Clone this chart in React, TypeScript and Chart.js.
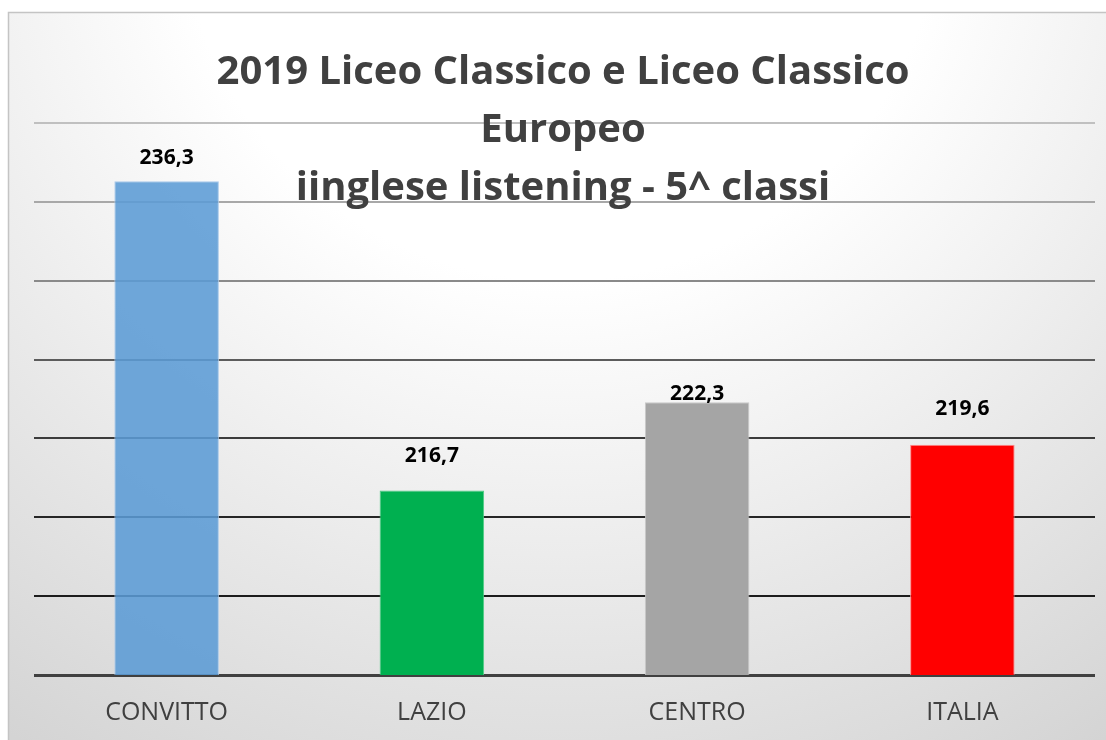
import React, { useEffect, useRef } from "react";
import { Chart, registerables } from "chart.js";

Chart.register(...registerables);

const categories = ["CONVITTO", "LAZIO", "CENTRO", "ITALIA"];
const values = [236.3, 216.7, 222.3, 219.6];
const titleLines = ["2019 Liceo Classico e Liceo Classico", "Europeo", "iinglese listening - 5^ classi"];
const yMin = 205;
const yMax = 240;
const yStep = 5;

const barColors = ["rgba(91,155,213,0.88)", "#00b050", "#a5a5a5", "#ff0000"];
const barBorders = ["#a9c9ea", "#4fcc85", "#c9c9c9", "#ff8a8a"];
// label baseline gap above each bar top (px), as placed in the original
const labelGaps = [17, 28, 2, 30];
const gridColors = ["#404040", "#1c1c1c", "#262626", "#3c3c3c", "#5c5c5c", "#8a8a8a", "#a8a8a8", "#c0c0c0"];

const fmt = (v: number) => v.toFixed(1).replace(".", ",");

const bgPlugin = {
  id: "bgPlugin",
  beforeDraw(chart: any) {
    const { ctx, width, height } = chart;
    ctx.save();
    ctx.fillStyle = "#ffffff";
    ctx.fillRect(0, 0, width, height);
    const g = ctx.createRadialGradient(560, -100, 0, 560, -100, 1000);
    g.addColorStop(0, "#ffffff");
    g.addColorStop(0.38, "#ffffff");
    g.addColorStop(1, "#d4d4d4");
    ctx.fillStyle = g;
    ctx.fillRect(8, 12, width + 10, height + 10);
    ctx.strokeStyle = "#c4c4c4";
    ctx.lineWidth = 1.5;
    ctx.strokeRect(8.5, 12.5, width + 10, height + 10);
    ctx.restore();
  },
};

const labelPlugin = {
  id: "labelPlugin",
  afterDatasetsDraw(chart: any) {
    const { ctx } = chart;
    const meta = chart.getDatasetMeta(0);
    ctx.save();
    ctx.font = "bold 21px 'Open Sans'";
    ctx.fillStyle = "#000000";
    ctx.textAlign = "center";
    ctx.textBaseline = "alphabetic";
    meta.data.forEach((bar: any, i: number) => {
      ctx.fillText(fmt(values[i]), bar.x, bar.y - labelGaps[i]);
    });
    ctx.restore();
  },
};

const titlePlugin = {
  id: "titlePlugin",
  afterDraw(chart: any) {
    const { ctx } = chart;
    ctx.save();
    ctx.font = "bold 40px 'Open Sans'";
    ctx.fillStyle = "#404040";
    ctx.textAlign = "center";
    ctx.textBaseline = "alphabetic";
    titleLines.forEach((line, i) => {
      ctx.fillText(line, 563, 84 + i * 58);
    });
    ctx.restore();
  },
};

export default function App() {
  const ref = useRef<HTMLCanvasElement | null>(null);
  useEffect(() => {
    document.body.style.margin = "0";
    document.body.style.overflow = "hidden";
    if (!ref.current) return;
    const chart = new Chart(ref.current, {
      type: "bar",
      data: {
        labels: categories,
        datasets: [
          {
            data: values,
            backgroundColor: barColors,
            borderColor: barBorders,
            borderWidth: 1,
            categoryPercentage: 1,
            barPercentage: 0.394,
          },
        ],
      },
      options: {
        responsive: false,
        animation: false,
        layout: { padding: { left: 34, right: 11, top: 123, bottom: 12 } },
        plugins: {
          legend: { display: false },
          title: { display: false },
          tooltip: { enabled: false },
        },
        scales: {
          x: {
            grid: { display: false, drawTicks: false },
            border: { display: false },
            afterFit: (scale: any) => {
              scale.height = 53;
            },
            ticks: {
              padding: 23,
              color: "#404040",
              font: { family: "'Open Sans'", size: 25 },
            },
          },
          y: {
            min: yMin,
            max: yMax,
            ticks: { display: false, stepSize: yStep },
            border: { display: false },
            grid: {
              drawTicks: false,
              color: (c: any) => gridColors[c.index] ?? "#c0c0c0",
              lineWidth: (c: any) => (c.index === 0 ? 3 : 2),
            },
          },
        },
      },
      plugins: [bgPlugin, labelPlugin, titlePlugin],
    });
    return () => chart.destroy();
  }, []);
  return (
    <div style={{ width: 1106, height: 740 }}>
      <canvas ref={ref} width={1106} height={740} style={{ display: "block" }} />
    </div>
  );
}
